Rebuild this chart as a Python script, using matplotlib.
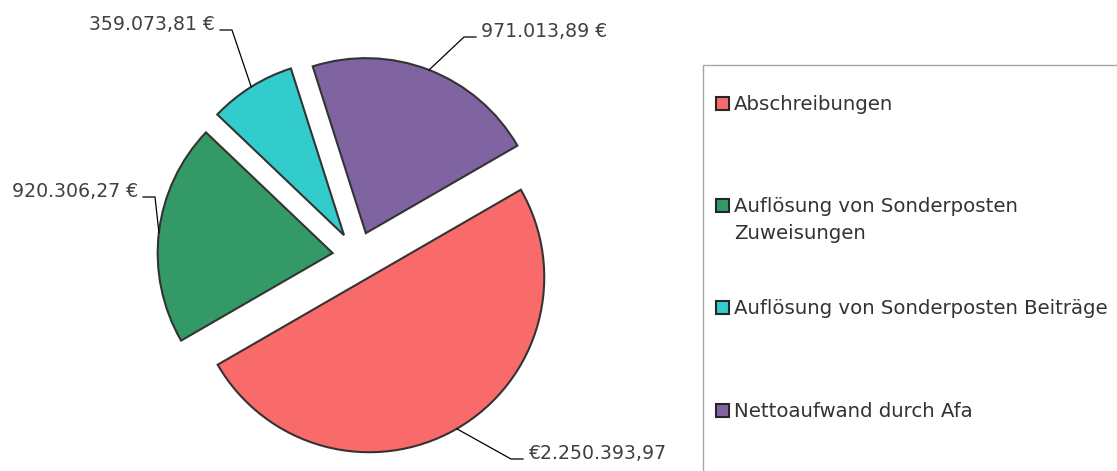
import numpy as np
import matplotlib.pyplot as plt
from matplotlib.patches import Rectangle

categories = ["Abschreibungen",
              "Auflösung von Sonderposten\nZuweisungen",
              "Auflösung von Sonderposten Beiträge",
              "Nettoaufwand durch Afa"]
values = [2250393.97, 920306.27, 359073.81, 971013.89]
value_labels = ["€2.250.393,97", "920.306,27 €", "359.073,81 €", "971.013,89 €"]
colors = ["#F96B6B", "#339966", "#33CCCC", "#8064A2"]

W, H = 1117, 471
cx, cy, R = 357, 256, 175   # pie centre and radius in pixels

fig = plt.figure(figsize=(W / 100, H / 100), dpi=100)
ax = fig.add_axes([0, 0, 1, 1])
wedges, _ = ax.pie(values, colors=colors, startangle=30, counterclock=False,
                   explode=[0.14] * 4,
                   wedgeprops=dict(edgecolor="#333333", linewidth=1.5))
ax.set_aspect("auto")
ax.set_xlim(-cx / R, (W - cx) / R)
ax.set_ylim((cy - H) / R, cy / R)
ax.axis("off")

# leader line elbow (pixels) and which side the label sits on
elbows = [(511, 459, 1), (155, 197, -1), (232, 30, -1), (464, 37, 1)]
for w, lab, (ex, ey, side) in zip(wedges, value_labels, elbows):
    mid = np.deg2rad((w.theta1 + w.theta2) / 2)
    x0 = w.center[0] + np.cos(mid)
    y0 = w.center[1] + np.sin(mid)
    xe, ye = (ex - cx) / R, (cy - ey) / R
    xh = xe + side * 12 / R
    ax.plot([x0, xe, xh], [y0, ye, ye], color="black", lw=0.9)
    ax.text(xh + side * 5 / R, ye, lab, ha="left" if side > 0 else "right",
            va="baseline", fontsize=13.6, color="#404040")

# legend box (runs off the right and bottom edge)
fig.patches.append(Rectangle((703 / W, -0.05), 1, (H - 65) / H + 0.05,
                             transform=fig.transFigure, fill=False,
                             edgecolor="#a6a6a6", lw=1.0))
baselines = [110, 212, 314, 417]
for lab, col, by in zip(categories, colors, baselines):
    fig.patches.append(Rectangle((716 / W, 1 - by / H), 13 / W, 13 / H,
                                 transform=fig.transFigure, facecolor=col,
                                 edgecolor="#262626", lw=1.5))
    for i, line in enumerate(lab.split("\n")):
        fig.text(734 / W, 1 - (by + 27 * i) / H, line, va="baseline",
                 fontsize=14.2, color="#333333")

plt.savefig("out.png", dpi=100)
